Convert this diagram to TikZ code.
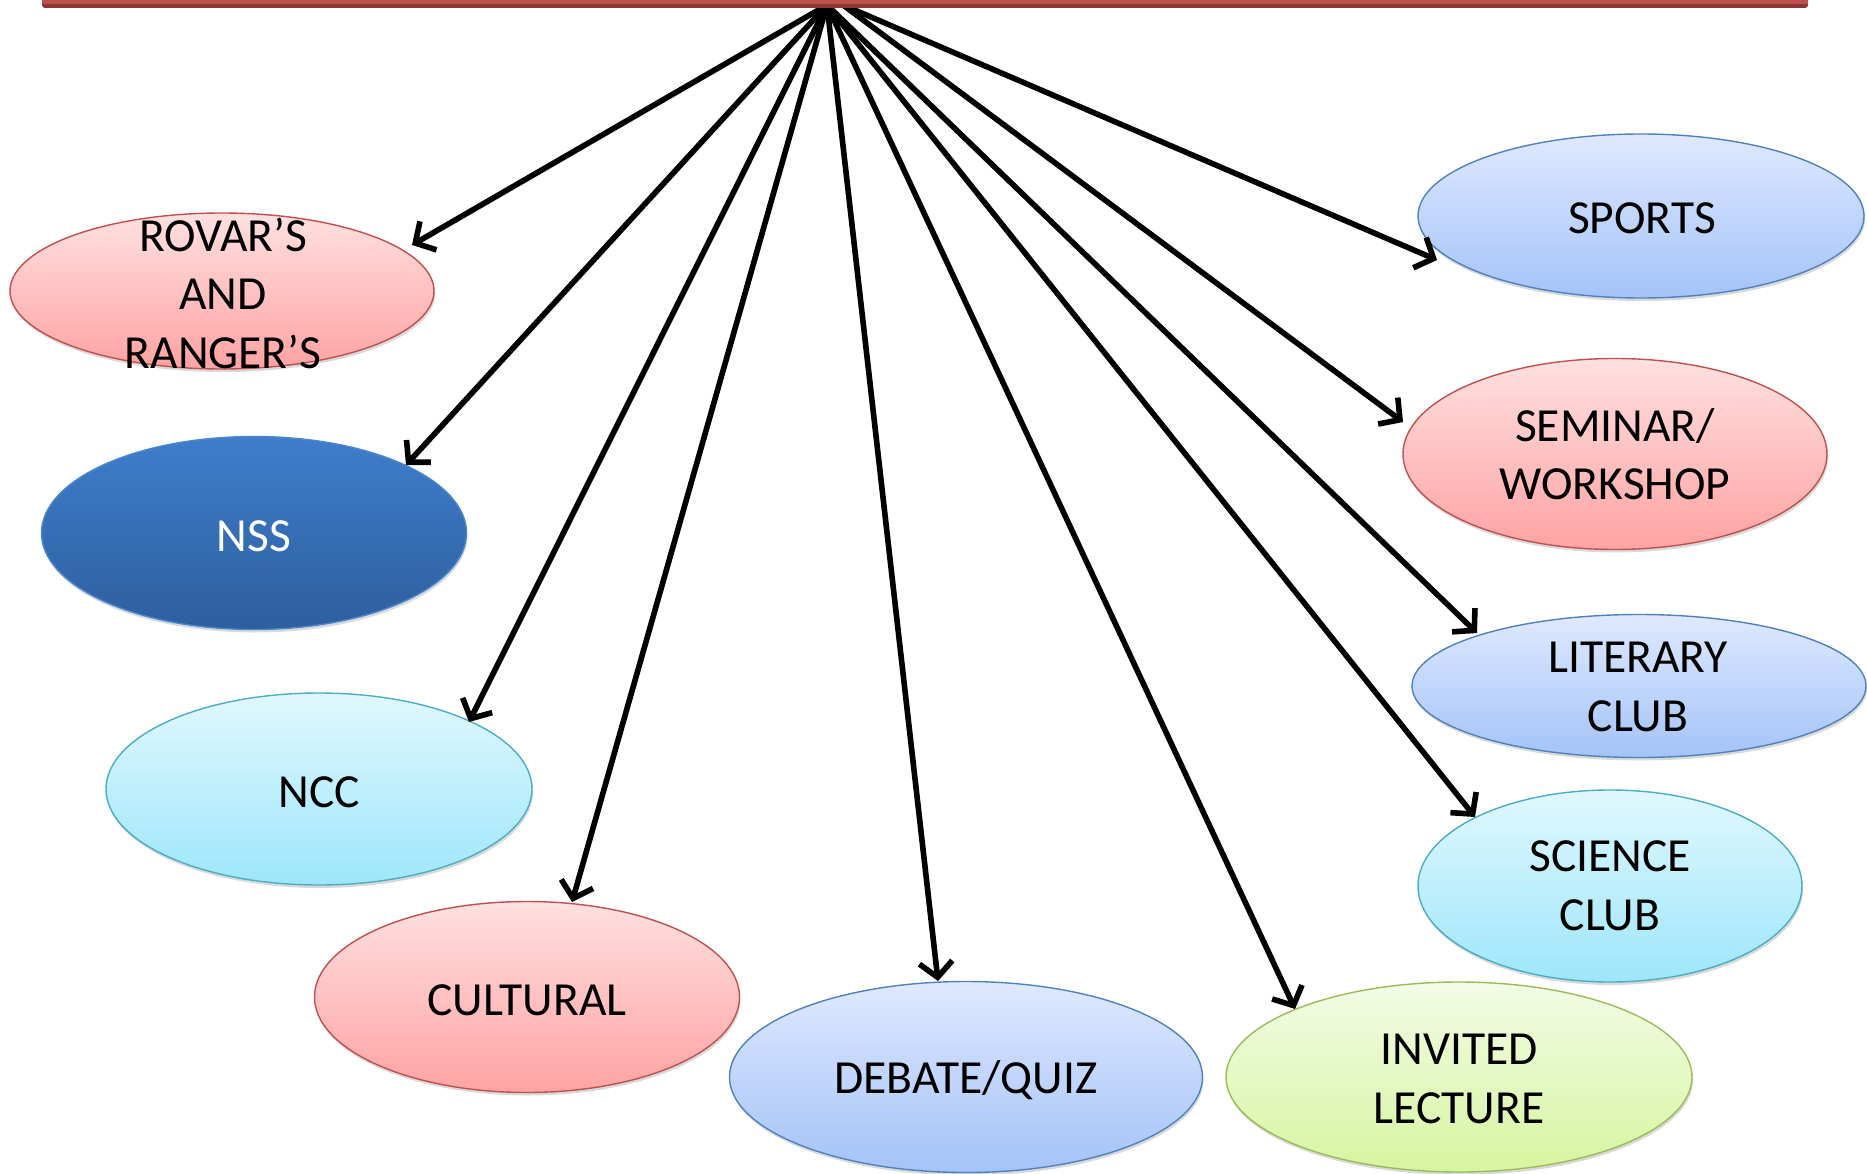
\documentclass[tikz,border=0pt]{standalone}
\usepackage{fontspec}
\setmainfont{Carlito}
\usetikzlibrary{shapes.geometric,arrows.meta,shadows}

\definecolor{redTop}{RGB}{255,224,224}
\definecolor{redBot}{RGB}{255,163,163}
\definecolor{redLine}{RGB}{192,80,77}
\definecolor{blueTop}{RGB}{222,233,255}
\definecolor{blueBot}{RGB}{164,195,248}
\definecolor{blueLine}{RGB}{79,129,189}
\definecolor{cyanTop}{RGB}{224,248,255}
\definecolor{cyanBot}{RGB}{158,230,250}
\definecolor{cyanLine}{RGB}{75,172,198}
\definecolor{greenTop}{RGB}{243,251,230}
\definecolor{greenBot}{RGB}{214,245,160}
\definecolor{greenLine}{RGB}{155,187,89}
\definecolor{nssTop}{RGB}{62,126,203}
\definecolor{nssBot}{RGB}{46,94,158}
\definecolor{nssLine}{RGB}{74,134,207}
\definecolor{barMain}{RGB}{192,80,77}
\definecolor{barDark}{RGB}{140,54,52}

\begin{document}
\begin{tikzpicture}[x=1pt,y=-1pt,
  oval/.style={ellipse, inner sep=0pt, line width=1.4pt,
    drop shadow={shadow xshift=1pt, shadow yshift=-3pt, opacity=0.15, fill=black}},
  redov/.style={oval, draw=redLine, top color=redTop, bottom color=redBot},
  blueov/.style={oval, draw=blueLine, top color=blueTop, bottom color=blueBot},
  cyanov/.style={oval, draw=cyanLine, top color=cyanTop, bottom color=cyanBot},
  greenov/.style={oval, draw=greenLine, top color=greenTop, bottom color=greenBot},
  nssov/.style={oval, draw=nssLine, top color=nssTop, bottom color=nssBot},
  lbl/.style={align=center, inner sep=0pt, font=\fontsize{47.5}{58.5}\selectfont, text=black},
  conn/.style={line width=5.6pt, line cap=round, -{Straight Barb[length=15pt,width=33pt]},
    preaction={draw=black, opacity=0.13, transform canvas={shift={(2pt,-2.5pt)}}}}
]
\useasboundingbox (0,0) rectangle (1867,1174);

% ellipses
\node[redov, minimum width=424pt, minimum height=156pt] (rov) at (222,291) {};
\node[nssov, minimum width=425pt, minimum height=193pt] (nss) at (254,533) {};
\node[cyanov, minimum width=426pt, minimum height=192pt] (ncc) at (319,789) {};
\node[redov, minimum width=425pt, minimum height=191pt] (cul) at (527,997) {};
\node[blueov, minimum width=473pt, minimum height=191pt] (deb) at (966,1077) {};
\node[greenov, minimum width=466pt, minimum height=190pt] (inv) at (1459,1077) {};
\node[cyanov, minimum width=384pt, minimum height=192pt] (sci) at (1610,886) {};
\node[blueov, minimum width=454pt, minimum height=143pt] (lit) at (1639,686) {};
\node[redov, minimum width=424pt, minimum height=191pt] (sem) at (1615,454) {};
\node[blueov, minimum width=446pt, minimum height=164pt] (spo) at (1641,216) {};

% labels
\node[lbl] (rovT) at (223,293) {ROVAR’S\\AND\\RANGER’S};
\node[lbl, text=white] (nssT) at (254,536) {NSS};
\node[lbl] (nccT) at (319,792) {NCC};
\node[lbl] (culT) at (527,1000) {CULTURAL};
\node[lbl] (debT) at (966,1080) {DEBATE/QUIZ};
\node[lbl] (invT) at (1459,1079) {INVITED\\LECTURE};
\node[lbl] (sciT) at (1610,886) {SCIENCE\\CLUB};
\node[lbl] (litT) at (1638,687) {LITERARY\\CLUB};
\node[lbl] (semT) at (1615,454) {SEMINAR/\\WORKSHOP};
\node[lbl] (spoT) at (1642,218) {SPORTS};

% apex points
\coordinate (apexA) at (827,5);
\coordinate (apexB) at (843,5);

% connectors
\draw[conn] (apexA) -- ([shift={(190,-46)}]rov.center);
\draw[conn] (apexA) -- ([shift={(152,-68)}]nss.center);
\draw[conn] (apexA) -- ([shift={(150,-67)}]ncc.center);
\draw[conn] (apexA) -- ([shift={(45,-95)}]cul.center);
\draw[conn] (apexA) -- ([shift={(-28,-96)}]deb.center);
\draw[conn] (apexA) -- ([shift={(-164,-68)}]inv.center);
\draw[conn] (apexA) -- ([shift={(-135,-69)}]sci.center);
\draw[conn] (apexA) -- ([shift={(-162,-53)}]lit.center);
\draw[conn] (apexB) -- ([shift={(-212,-32)}]sem.center);
\draw[conn] (apexB) -- ([shift={(-204,44)}]spo.center);

% top bar
\fill[barDark, rounded corners=3pt] (42,-6) rectangle (1808,8);
\fill[barMain] (42,-6) rectangle (1808,4);
\end{tikzpicture}
\end{document}
